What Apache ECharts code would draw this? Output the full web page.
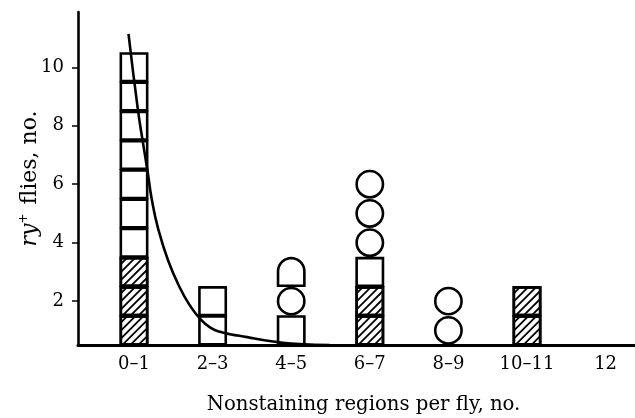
<!DOCTYPE html>
<html>
<head>
<meta charset="utf-8">
<script src="https://cdn.jsdelivr.net/npm/echarts@6/dist/echarts.min.js"></script>
<style>
html,body{margin:0;padding:0;background:#fff;}
#c{width:635px;height:418px;}
</style>
</head>
<body>
<div id="c"></div>
<script>
// Categories (x tick labels)
const categories = ['0\u20131', '2\u20133', '4\u20135', '6\u20137', '8\u20139', '10\u201311', '12'];
// Stacked symbol counts per category (bottom to top: hatched, open square, circle, dome)
const hatched = [3, 0, 0, 2, 0, 2, 0];
const squares = [7, 2, 1, 1, 0, 0, 0];
const circles = [0, 0, 1, 3, 2, 0, 0];
const domes   = [0, 0, 1, 0, 0, 0, 0];
// Y tick labels
const yTicks = [2, 4, 6, 8, 10];
// Fitted curve (x in category units, y in fly counts, block-centred scale)
const curveX = [-0.07, 0.05, 0.115, 0.175, 0.225, 0.305, 0.433, 0.585, 0.712, 0.84, 0.967, 1.094, 1.22, 1.44, 1.64, 1.82, 2.11, 2.49];
const curveY = [11.14, 8.54, 7.40, 6.40, 5.50, 4.50, 3.40, 2.45, 1.85, 1.40, 1.10, 0.95, 0.87, 0.77, 0.67, 0.60, 0.53, 0.50];

const blocks = [];
categories.forEach((c, i) => {
  let lvl = 1;
  for (let k = 0; k < hatched[i]; k++) blocks.push([i, lvl++, 0]);
  for (let k = 0; k < squares[i]; k++) blocks.push([i, lvl++, 1]);
  for (let k = 0; k < circles[i]; k++) blocks.push([i, lvl++, 2]);
  for (let k = 0; k < domes[i]; k++) blocks.push([i, lvl++, 3]);
});
const curve = curveX.map((x, i) => [x, curveY[i]]);

const LW = 2.6;
const stroke = {fill: '#fff', stroke: '#000', lineWidth: LW};

function renderItem(params, api) {
  const xv = api.value(0), lv = api.value(1), t = api.value(2);
  const c = api.coord([xv, lv]);
  const s = api.size([0.335, 1]);
  const w = s[0], h = s[1] - 1.6;
  const x0 = c[0] - w / 2, y0 = c[1] - h / 2;
  if (t === 1) {
    return {type: 'rect', shape: {x: x0, y: y0, width: w, height: h}, style: stroke};
  }
  if (t === 0) {
    const children = [{type: 'rect', shape: {x: x0, y: y0, width: w, height: h}, style: stroke}];
    const step = 8;
    for (let cc = step - 2; cc < w + h; cc += step) {
      const u1 = Math.max(0, cc - h), u2 = Math.min(w, cc);
      children.push({type: 'line', shape: {x1: x0 + u1, y1: y0 + (cc - u1), x2: x0 + u2, y2: y0 + (cc - u2)},
        style: {stroke: '#000', lineWidth: 1.8}});
    }
    children.push({type: 'rect', shape: {x: x0, y: y0, width: w, height: h}, style: {fill: null, stroke: '#000', lineWidth: LW}});
    return {type: 'group', children: children};
  }
  if (t === 2) {
    return {type: 'circle', shape: {cx: c[0], cy: c[1], r: Math.min(w, h) / 2}, style: stroke};
  }
  // dome: flat bottom, semicircular top
  const r = w / 2;
  const pts = [[x0, y0 + h], [x0 + w, y0 + h], [x0 + w, y0 + r]];
  for (let a = 0; a <= 180; a += 10) {
    const rad = a * Math.PI / 180;
    pts.push([c[0] + r * Math.cos(rad), y0 + r - r * Math.sin(rad)]);
  }
  pts.push([x0, y0 + r]);
  return {type: 'polygon', shape: {points: pts}, style: stroke};
}

const font = 'DejaVu Serif';
const chart = echarts.init(document.getElementById('c'));
chart.setOption({
  animation: false,
  backgroundColor: '#fff',
  grid: {left: 78, top: 12, right: 0, bottom: 73, outerBoundsMode: 'none', containLabel: false},
  xAxis: {
    type: 'value', min: -0.7125, max: 6.374,
    splitLine: {show: false},
    axisLine: {show: true, onZero: false, lineStyle: {color: '#000', width: 3}},
    axisTick: {show: false},
    axisLabel: {customValues: [0, 1, 2, 3, 4, 5, 6], formatter: v => categories[Math.round(v)],
      color: '#000', fontFamily: font, fontSize: 18, margin: 10},
    name: 'Nonstaining regions per fly, no.', nameLocation: 'middle', nameGap: 50, nameMoveOverlap: false,
    nameTextStyle: {color: '#000', fontFamily: font, fontSize: 19.7, padding: [0, 0, 0, 14]}
  },
  yAxis: {
    type: 'value', min: 0.5, max: 11.89,
    splitLine: {show: false},
    axisLine: {show: true, onZero: false, lineStyle: {color: '#000', width: 2.6}},
    axisTick: {show: true, customValues: yTicks, length: 6, lineStyle: {color: '#000', width: 1.5}},
    axisLabel: {customValues: yTicks, color: '#000', fontFamily: font, fontSize: 18, margin: 14},
    name: '{i|ry}{s|+} flies, no.', nameLocation: 'middle', nameGap: 36, nameRotate: 90, nameMoveOverlap: false,
    nameTextStyle: {color: '#000', fontFamily: font, fontSize: 22,
      rich: {i: {fontStyle: 'italic', fontFamily: font, fontSize: 22, color: '#000'},
             s: {fontSize: 12, fontFamily: font, color: '#000', verticalAlign: 'top', padding: [0, 2, 12, 0]}}}
  },
  series: [
    {type: 'custom', renderItem: renderItem, data: blocks, encode: {x: 0, y: 1}, z: 2, clip: false},
    {type: 'line', data: curve, smooth: 0.5, symbol: 'none', z: 3,
      lineStyle: {color: '#000', width: 2.6}}
  ]
});
</script>
</body>
</html>
